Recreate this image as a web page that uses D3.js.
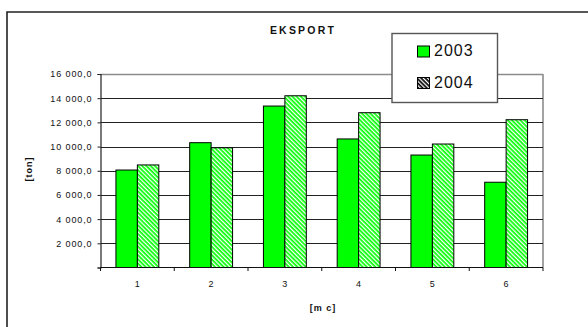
<!DOCTYPE html>
<html>
<head>
<meta charset="utf-8">
<script src="https://cdn.jsdelivr.net/npm/d3@7"></script>
<style>
  html, body { margin: 0; padding: 0; background: #fff; }
  svg { display: block; font-family: Arial, "Liberation Sans", sans-serif; }
</style>
</head>
<body>
<svg id="chart" width="588" height="327"></svg>
<script>
// Monthly export volumes, tonnes
const months = ["1", "2", "3", "4", "5", "6"];
const seriesNames = ["2003", "2004"];
const values2003 = [8060, 10320, 13350, 10630, 9300, 7050];
const values2004 = [8480, 9900, 14200, 12800, 10210, 12220];
const yTicks = [2000, 4000, 6000, 8000, 10000, 12000, 14000, 16000];
const chartTitle = "EKSPORT";
const xTitle = "[m c]";
const yTitle = "[ton]";

const rows = months.map((m, i) => ({ month: m, "2003": values2003[i], "2004": values2004[i] }));

const svg = d3.select("#chart");
const plot = { left: 100.5, right: 543, top: 74, bottom: 267.5 };

// Hatched fill for 2004 bars and a dark variant for its legend key
const defs = svg.append("defs");
const hatch = defs.append("pattern")
  .attr("id", "hatchGreen").attr("patternUnits", "userSpaceOnUse")
  .attr("width", 3).attr("height", 3)
  .attr("patternTransform", "rotate(-45)");
hatch.append("rect").attr("width", 3).attr("height", 3).attr("fill", "#00ff00");
hatch.append("rect").attr("width", 1.3).attr("height", 3).attr("fill", "#fff");

const hatchDark = defs.append("pattern")
  .attr("id", "hatchDark").attr("patternUnits", "userSpaceOnUse")
  .attr("width", 3).attr("height", 3)
  .attr("patternTransform", "rotate(-45)");
hatchDark.append("rect").attr("width", 3).attr("height", 3).attr("fill", "#000");
hatchDark.append("rect").attr("width", 1.3).attr("height", 3).attr("fill", "#fff");

const fills = { "2003": "#00ff00", "2004": "url(#hatchGreen)" };
const legendFills = { "2003": "#00ff00", "2004": "url(#hatchDark)" };

// Outer frame
svg.append("path")
  .attr("d", "M7,327 L7,12 L590,12")
  .attr("fill", "none").attr("stroke", "#222").attr("stroke-width", 1.6);

// Scales
const x0 = d3.scaleBand().domain(months).range([plot.left, plot.right]).padding(0);
const x1 = d3.scaleBand().domain(seriesNames).range([0, x0.bandwidth()]).paddingInner(0).paddingOuter(0.72);
const y = d3.scaleLinear().domain([0, 16000]).range([plot.bottom, plot.top]);

// Plot area border (right side) and gridlines
svg.append("line")
  .attr("x1", plot.right).attr("x2", plot.right)
  .attr("y1", plot.top).attr("y2", plot.bottom)
  .attr("stroke", "#8c8c8c").attr("stroke-width", 1.6);

svg.append("g")
  .selectAll("line")
  .data(yTicks)
  .join("line")
  .attr("x1", plot.left).attr("x2", plot.right)
  .attr("y1", d => Math.round(y(d)) + 0.5).attr("y2", d => Math.round(y(d)) + 0.5)
  .attr("stroke", d => d === 16000 ? "#8c8c8c" : "#222")
  .attr("stroke-width", d => d === 16000 ? 1.4 : 1);

// Bars
const groups = svg.append("g")
  .selectAll("g")
  .data(rows)
  .join("g")
  .attr("transform", d => `translate(${x0(d.month)},0)`);

groups.selectAll("rect")
  .data(d => seriesNames.map(s => ({ series: s, value: d[s] })))
  .join("rect")
  .attr("x", d => x1(d.series))
  .attr("y", d => y(d.value))
  .attr("width", x1.bandwidth())
  .attr("height", d => plot.bottom - y(d.value))
  .attr("fill", d => fills[d.series])
  .attr("stroke", "#000")
  .attr("stroke-width", 1);

// Y axis
const yFormat = v => d3.format(",.1f")(v).replace(/,/g, " ").replace(".", ",");
const yAxis = svg.append("g")
  .attr("transform", `translate(${plot.left},0)`)
  .call(d3.axisLeft(y).tickValues([0].concat(yTicks)).tickSize(3).tickPadding(5)
    .tickFormat(d => d === 0 ? "" : yFormat(d)));
yAxis.select(".domain").attr("stroke", "#222").attr("stroke-width", 1.2);
yAxis.selectAll(".tick line").attr("stroke", "#222");
yAxis.selectAll("text")
  .attr("font-size", 9).attr("letter-spacing", 0.9).attr("fill", "#111")
  .attr("font-family", "Arial, 'Liberation Sans', sans-serif");

// X axis: ticks at category boundaries, labels centred in each band
const xAxisG = svg.append("g").attr("transform", `translate(0,${plot.bottom})`);
xAxisG.append("line")
  .attr("x1", plot.left).attr("x2", plot.right)
  .attr("stroke", "#111").attr("stroke-width", 1.2);
xAxisG.selectAll("line.tk")
  .data(months.map(m => x0(m)).concat([plot.right]))
  .join("line").attr("class", "tk")
  .attr("x1", d => d).attr("x2", d => d)
  .attr("y1", 0).attr("y2", 3.5)
  .attr("stroke", "#111");
xAxisG.selectAll("text")
  .data(months)
  .join("text")
  .attr("x", d => x0(d) + x0.bandwidth() / 2)
  .attr("y", 19)
  .attr("text-anchor", "middle")
  .attr("font-size", 9).attr("fill", "#111")
  .text(d => d);

// Titles
svg.append("text")
  .attr("x", 303).attr("y", 34)
  .attr("text-anchor", "middle")
  .attr("font-size", 10.5).attr("font-weight", "bold").attr("letter-spacing", 2.2)
  .attr("fill", "#111")
  .text(chartTitle);

svg.append("text")
  .attr("x", 323).attr("y", 310.5)
  .attr("text-anchor", "middle")
  .attr("font-size", 9).attr("font-weight", "bold").attr("letter-spacing", 1)
  .attr("fill", "#111")
  .text(xTitle);

svg.append("text")
  .attr("transform", "translate(32,169) rotate(-90)")
  .attr("text-anchor", "middle")
  .attr("font-size", 9).attr("font-weight", "bold").attr("letter-spacing", 1)
  .attr("fill", "#111")
  .text(yTitle);

// Legend
const legend = svg.append("g");
legend.append("rect")
  .attr("x", 392).attr("y", 33.5)
  .attr("width", 105.5).attr("height", 69)
  .attr("fill", "#fff").attr("stroke", "#555").attr("stroke-width", 1.4);

const legendItems = legend.selectAll("g.item")
  .data(seriesNames)
  .join("g").attr("class", "item")
  .attr("transform", (d, i) => `translate(417.5,${46 + i * 31.5})`);
legendItems.append("rect")
  .attr("width", 12).attr("height", 11)
  .attr("fill", d => legendFills[d])
  .attr("stroke", "#000").attr("stroke-width", 1);
legendItems.append("text")
  .attr("x", 16.5).attr("y", 10)
  .attr("font-size", 16).attr("letter-spacing", 1)
  .attr("fill", "#111")
  .text(d => d);
</script>
</body>
</html>
